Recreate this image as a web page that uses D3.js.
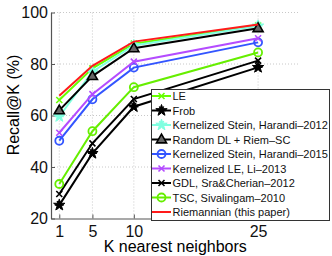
<!DOCTYPE html>
<html>
<head>
<meta charset="utf-8">
<script src="https://cdn.jsdelivr.net/npm/d3@7"></script>
<style>
  body { margin: 0; background: #fff; }
  text { font-family: "Liberation Sans", Arial, sans-serif; }
</style>
</head>
<body>
<div id="chart"></div>
<script>
var width = 332,
height = 256;

// data
var kValues = [1, 5, 10, 25];
var yTicks = [20, 40, 60, 80, 100];

var le = [66.0, 78.3, 87.9, 95.0];
var frob = [25.2, 45.3, 63.4, 78.7];
var stein2012 = [59.6, 77.0, 87.2, 94.8];
var randomDL = [62.0, 75.3, 86.1, 93.9];
var stein2015 = [50.2, 66.3, 78.6, 88.4];
var kle = [53.3, 68.3, 80.9, 90.0];
var gdl = [29.5, 49.2, 66.4, 81.3];
var tsc = [33.4, 53.9, 71.0, 84.5];
var riem = [67.7, 79.3, 88.7, 95.3];

var seriesNames = ['LE', 'Frob', 'Kernelized Stein, Harandi\u20132012', 'Random DL + Riem\u2013SC',
  'Kernelized Stein, Harandi\u20132015', 'Kernelized LE, Li\u20132013', 'GDL, Sra&Cherian\u20132012',
  'TSC, Sivalingam\u20132010', 'Riemannian (this paper)'];
var seriesValues = [le, frob, stein2012, randomDL, stein2015, kle, gdl, tsc, riem];

var styles = [
  { color: '#66ff00', marker: 'x' },
  { color: '#000000', marker: 'star' },
  { color: '#80ffe0', marker: 'star' },
  { color: '#000000', marker: 'triangle' },
  { color: '#3355ff', marker: 'circle' },
  { color: '#b44cff', marker: 'x' },
  { color: '#000000', marker: 'x' },
  { color: '#66ee00', marker: 'circle' },
  { color: '#ff1a1a', marker: 'none' }
];

var series = seriesNames.map((n, i) => ({ name: n, values: seriesValues[i], style: styles[i] }));

var plotLeft = 51, plotRight = 299.5, plotTop = 12.5, plotBottom = 218.5;

const xScale = d3.scaleLinear().domain([0, 30]).range([plotLeft, plotRight]);
const yScale = d3.scaleLinear().domain([20, 100]).range([plotBottom, plotTop]);

const svg = d3.select('#chart').
append('svg').
attr('width', width).
attr('height', height);

// dotted grid
svg.selectAll('.gx').data(kValues).enter().append('line').
attr('x1', d => xScale(d)).attr('x2', d => xScale(d)).
attr('y1', plotTop).attr('y2', plotBottom).
attr('stroke', '#c8c8c8').attr('stroke-width', 1).attr('stroke-dasharray', '1,2');
svg.selectAll('.gy').data(yTicks.slice(1)).enter().append('line').
attr('x1', plotLeft).attr('x2', plotRight).
attr('y1', d => yScale(d)).attr('y2', d => yScale(d)).
attr('stroke', '#c8c8c8').attr('stroke-width', 1).attr('stroke-dasharray', '1,2');

const xAxis = d3.axisBottom(xScale).tickValues(kValues).tickSize(-4).tickSizeOuter(0).tickPadding(7);
const yAxis = d3.axisLeft(yScale).tickValues(yTicks).tickSize(-4).tickSizeOuter(0).tickPadding(3);

const gx = svg.append('g').attr('transform', 'translate(0,' + plotBottom + ')').call(xAxis);
const gy = svg.append('g').attr('transform', 'translate(' + plotLeft + ',0)').call(yAxis);
[gx, gy].forEach(g => {
  g.select('.domain').attr('stroke', '#555').attr('stroke-width', 1.2);
  g.selectAll('.tick line').attr('stroke', '#555');
  g.selectAll('.tick text').attr('font-size', '16px').attr('fill', '#111').
  style('font-family', '"Liberation Sans", Arial, sans-serif');
});

svg.append('text').
attr('x', (plotLeft + plotRight) / 2).
attr('y', 252).
attr('text-anchor', 'middle').
attr('font-size', '16px').
text('K nearest neighbors');

svg.append('text').
attr('transform', 'translate(19,105) rotate(-90)').
attr('text-anchor', 'middle').
attr('font-size', '16px').
text('Recall@K (%)');

function drawMarker(g, type, color, cx, cy) {
  if (type === 'circle') {
    g.append('circle').attr('cx', cx).attr('cy', cy).attr('r', 4).
    attr('fill', 'none').attr('stroke', color).attr('stroke-width', 1.8);
  } else if (type === 'triangle') {
    g.append('path').attr('transform', 'translate(' + cx + ',' + (cy + 0.5) + ')').
    attr('d', d3.symbol().type(d3.symbolTriangle).size(44)()).
    attr('fill', '#666').attr('stroke', color).attr('stroke-width', 1.6);
  } else if (type === 'star') {
    g.append('path').attr('transform', 'translate(' + cx + ',' + cy + ')').
    attr('d', d3.symbol().type(d3.symbolStar).size(40)()).
    attr('fill', color).attr('stroke', color).attr('stroke-width', 1);
    g.append('path').attr('transform', 'translate(' + cx + ',' + cy + ')').
    attr('d', 'M-4.5,0H4.5M-2.2,-4L2.2,4M-2.2,4L2.2,-4').
    attr('stroke', color).attr('stroke-width', 1.4);
  } else if (type === 'x') {
    g.append('path').attr('transform', 'translate(' + cx + ',' + cy + ')').
    attr('d', 'M-3,-3L3,3M-3,3L3,-3').
    attr('fill', 'none').attr('stroke', color).attr('stroke-width', 1.6);
  }
}

const line = d3.line().x((d, i) => xScale(kValues[i])).y(d => yScale(d));

series.forEach(s => {
  const g = svg.append('g');
  g.append('path').datum(s.values).
  attr('d', line).
  attr('fill', 'none').
  attr('stroke', s.style.color).
  attr('stroke-width', 2);
  s.values.forEach((v, i) => drawMarker(g, s.style.marker, s.style.color, xScale(kValues[i]), yScale(v)));
});

// legend
const lg = svg.append('g');
lg.append('rect').
attr('x', 151.5).attr('y', 89.5).
attr('width', 178).attr('height', 131).
attr('fill', '#fff').attr('stroke', '#333').attr('stroke-width', 1);

series.forEach((s, i) => {
  const yy = 96 + i * 14.5;
  lg.append('line').
  attr('x1', 152).attr('x2', 171).attr('y1', yy).attr('y2', yy).
  attr('stroke', s.style.color).attr('stroke-width', 2);
  drawMarker(lg, s.style.marker, s.style.color, 161.5, yy);
  lg.append('text').
  attr('x', 172.5).attr('y', yy + 4).
  attr('font-size', '11px').
  attr('fill', '#111').
  text(s.name);
});
</script>
</body>
</html>
